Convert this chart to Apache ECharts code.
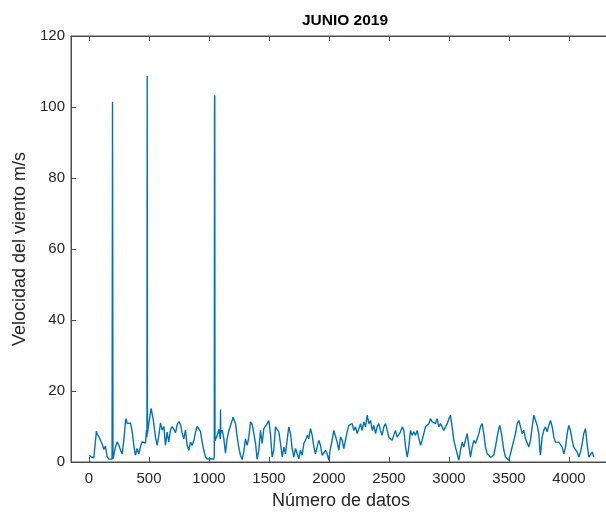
<!DOCTYPE html>
<html>
<head>
<meta charset="utf-8">
<script src="https://cdn.jsdelivr.net/npm/echarts@6/dist/echarts.min.js"></script>
<style>
  * { margin: 0; padding: 0; }
  body { background: #fff; }
</style>
</head>
<body>
<!-- contenedor del grafico -->
<div id="main" style="width:606px;height:515px;background:white;"></div>
<script>
// indice de dato (eje x)
var dataIndex = [
  1, 20, 40, 55, 62, 68, 82, 96, 110, 124, 137, 151, 165, 179, 192, 196, 200, 207, 221, 235,
  249, 263, 276, 290, 304, 310, 318, 332, 346, 360, 374, 387, 401, 415, 429, 443, 457, 471, 479, 483,
  485, 487, 499, 518, 535, 554, 568, 582, 596, 610, 624, 637, 651, 665, 679, 693, 707, 721, 735, 749,
  763, 776, 790, 804, 818, 832, 846, 860, 874, 887, 901, 915, 929, 943, 957, 971, 985, 1000, 1013, 1027,
  1040, 1044, 1046, 1048, 1050, 1068, 1082, 1094, 1096, 1098, 1110, 1124, 1137, 1151, 1165, 1179, 1193, 1201, 1207, 1221,
  1235, 1249, 1262, 1276, 1290, 1304, 1318, 1332, 1346, 1360, 1374, 1388, 1401, 1415, 1429, 1443, 1457, 1471, 1485, 1498,
  1512, 1526, 1540, 1554, 1568, 1582, 1596, 1610, 1624, 1637, 1651, 1665, 1679, 1693, 1707, 1721, 1735, 1748, 1762, 1776,
  1790, 1804, 1818, 1832, 1846, 1860, 1874, 1887, 1901, 1915, 1929, 1943, 1957, 1971, 1985, 1998, 2012, 2026, 2040, 2054,
  2068, 2082, 2096, 2110, 2123, 2137, 2151, 2165, 2179, 2193, 2207, 2221, 2235, 2249, 2263, 2276, 2290, 2304, 2318, 2332,
  2346, 2360, 2374, 2388, 2401, 2415, 2429, 2443, 2457, 2471, 2485, 2499, 2513, 2526, 2540, 2554, 2568, 2582, 2596, 2610,
  2624, 2638, 2652, 2665, 2679, 2693, 2707, 2721, 2735, 2749, 2763, 2776, 2790, 2804, 2818, 2832, 2846, 2860, 2874, 2888,
  2901, 2915, 2929, 2943, 2957, 2971, 2985, 2999, 3012, 3026, 3040, 3054, 3068, 3082, 3096, 3110, 3123, 3137, 3151, 3165,
  3179, 3193, 3207, 3221, 3235, 3249, 3262, 3276, 3290, 3304, 3318, 3332, 3346, 3360, 3373, 3387, 3401, 3415, 3423, 3437,
  3457, 3471, 3485, 3499, 3512, 3526, 3540, 3554, 3568, 3582, 3596, 3610, 3624, 3637, 3651, 3665, 3679, 3693, 3707, 3721,
  3735, 3749, 3757, 3762, 3776, 3790, 3804, 3818, 3832, 3846, 3860, 3874, 3887, 3901, 3915, 3929, 3943, 3957, 3971, 3985,
  3998, 4012, 4026, 4040, 4054, 4068, 4082, 4096, 4110, 4123, 4137, 4151, 4165, 4179, 4193, 4207
];
// velocidad del viento m/s
var windSpeed = [
  1.9, 1.4, 1.2, 1.5, 8.7, 7.8, 7.2, 7.5, 5.0, 3.5, 4.5, 1.5, 0.8, 0.9, 0.8, 101.5, 0.9, 1.3, 4.3, 5.7,
  4.7, 3.3, 2.3, 6.0, 11.5, 12.2, 10.8, 10.5, 11.0, 8.5, 4.5, 1.9, 3.8, 2.3, 4.3, 5.7, 6.2, 5.3, 9.0, 7.0,
  108.7, 8.0, 11.0, 15.1, 12.0, 7.0, 4.7, 7.5, 11.0, 9.0, 10.0, 4.7, 8.4, 5.7, 9.0, 10.0, 9.5, 8.3, 10.5, 11.4,
  10.5, 8.2, 6.5, 9.0, 4.7, 3.3, 5.6, 4.7, 6.1, 8.3, 10.0, 9.5, 8.6, 5.6, 3.3, 1.4, 0.8, 0.6, 0.9, 0.7,
  0.8, 1.5, 100.7, 103.3, 6.0, 7.5, 9.2, 6.5, 14.8, 8.0, 9.0, 6.5, 2.5, 6.5, 8.8, 8.5, 11.7, 12.6, 12.7, 10.8,
  7.0, 4.0, 1.9, 0.7, 2.8, 6.5, 4.7, 7.0, 11.3, 10.5, 8.0, 5.2, 0.8, 3.3, 8.9, 5.2, 9.4, 8.9, 10.8, 11.7,
  8.0, 1.4, 3.3, 9.9, 9.4, 8.5, 5.2, 1.4, 4.2, 2.3, 6.1, 9.9, 8.0, 3.8, 1.4, 3.8, 2.3, 0.9, 3.3, 1.9,
  5.2, 6.1, 7.5, 6.6, 9.4, 7.5, 4.2, 2.3, 4.2, 6.1, 4.7, 1.9, 1.4, 3.3, 2.3, 0.5, 3.8, 6.1, 8.9, 8.5,
  5.6, 3.3, 7.0, 6.1, 3.8, 6.1, 8.5, 10.3, 10.8, 10.8, 8.9, 9.9, 8.0, 9.4, 10.8, 8.9, 11.3, 9.9, 13.2, 10.8,
  11.7, 8.9, 10.3, 8.0, 9.9, 10.8, 8.9, 7.5, 9.9, 10.8, 8.9, 7.0, 7.5, 6.1, 7.5, 8.9, 7.0, 6.6, 8.5, 9.9,
  8.9, 4.2, 1.4, 4.2, 8.9, 7.5, 8.5, 7.5, 8.9, 6.6, 4.7, 6.1, 8.0, 9.9, 9.4, 10.8, 12.2, 11.3, 11.7, 10.8,
  12.2, 9.9, 10.8, 10.3, 8.9, 9.4, 10.8, 12.2, 13.2, 9.9, 6.1, 4.2, 2.3, 0.5, 3.3, 5.6, 4.2, 6.1, 8.0, 4.7,
  1.4, 4.2, 6.1, 5.2, 6.6, 8.0, 9.9, 10.8, 8.0, 4.2, 2.3, 2.8, 1.4, 0.9, 1.9, 4.2, 7.0, 9.4, 10.3, 8.0,
  3.3, 1.4, 0.9, 0.5, 0.9, 4.2, 6.1, 8.0, 10.8, 11.7, 9.9, 8.0, 8.9, 6.6, 6.1, 4.2, 6.1, 9.9, 13.2, 12.7,
  10.3, 8.0, 3.3, 1.9, 7.0, 8.9, 9.9, 8.5, 10.3, 11.7, 9.9, 7.0, 5.6, 6.1, 5.6, 6.1, 4.2, 2.3, 4.2, 8.0,
  10.3, 8.9, 6.1, 4.2, 4.7, 2.8, 1.4, 2.8, 5.2, 8.0, 9.4, 5.2, 1.4, 1.9, 2.8, 1.4
];

var seriesData = dataIndex.map(function (x, k) { return [x, windSpeed[k]]; });

var chart = echarts.init(document.getElementById('main'), null, { renderer: 'canvas' });
var fuente = 'Liberation Sans, Arial, Helvetica, sans-serif';
var ejeColor = '#4d4d4d';

// solo etiquetas en multiplos de 500
function etiquetaX(v) {
  return (v % 500 === 0) ? String(v) : '';
}

chart.setOption({
  animation: false,
  title: {
    text: 'JUNIO 2019',
    left: 340,
    top: 8,
    textAlign: 'center',
    textStyle: { fontFamily: fuente, fontWeight: 'bold', fontSize: 15.5, color: '#000' }
  },
  grid: {
    left: 71, top: 36, width: 540, height: 426,
    outerBoundsMode: 'none',
    containLabel: false,
    show: true, borderColor: ejeColor, borderWidth: 1, backgroundColor: '#fff'
  },
  xAxis: [{
    type: 'value',
    min: -150, max: 4350,
    splitNumber: 9,
    name: 'Número de datos',
    nameLocation: 'middle',
    nameGap: 30,
    nameTextStyle: { fontFamily: fuente, fontSize: 18, color: '#262626' },
    axisLine: { show: true, onZero: false, lineStyle: { color: ejeColor } },
    axisTick: { show: true, inside: true, length: 5, lineStyle: { color: ejeColor } },
    axisLabel: { fontFamily: fuente, fontSize: 15, color: '#262626', margin: 9, formatter: etiquetaX },
    splitLine: { show: false }
  }, {
    type: 'value',
    position: 'top',
    min: -150, max: 4350,
    splitNumber: 9,
    axisLine: { show: true, onZero: false, lineStyle: { color: ejeColor } },
    axisTick: { show: true, inside: true, length: 5, lineStyle: { color: ejeColor } },
    axisLabel: { show: false },
    splitLine: { show: false }
  }],
  yAxis: [{
    type: 'value',
    min: 0, max: 120, interval: 20,
    name: 'Velocidad del viento m/s',
    nameLocation: 'middle',
    nameGap: 40,
    nameTextStyle: { fontFamily: fuente, fontSize: 18, color: '#262626' },
    axisLine: { show: true, onZero: false, lineStyle: { color: ejeColor } },
    axisTick: { show: true, inside: true, length: 5, lineStyle: { color: ejeColor } },
    axisLabel: { fontFamily: fuente, fontSize: 15, color: '#262626', margin: 6 },
    splitLine: { show: false }
  }, {
    type: 'value',
    position: 'right',
    min: 0, max: 120, interval: 20,
    axisLine: { show: true, onZero: false, lineStyle: { color: ejeColor } },
    axisTick: { show: true, inside: true, length: 5, lineStyle: { color: ejeColor } },
    axisLabel: { show: false },
    splitLine: { show: false }
  }],
  series: [{
    name: 'Velocidad',
    type: 'line',
    data: seriesData,
    showSymbol: false,
    symbol: 'none',
    lineStyle: { color: '#0072BD', width: 1.4 },
    z: 3
  }]
});
</script>
</body>
</html>
